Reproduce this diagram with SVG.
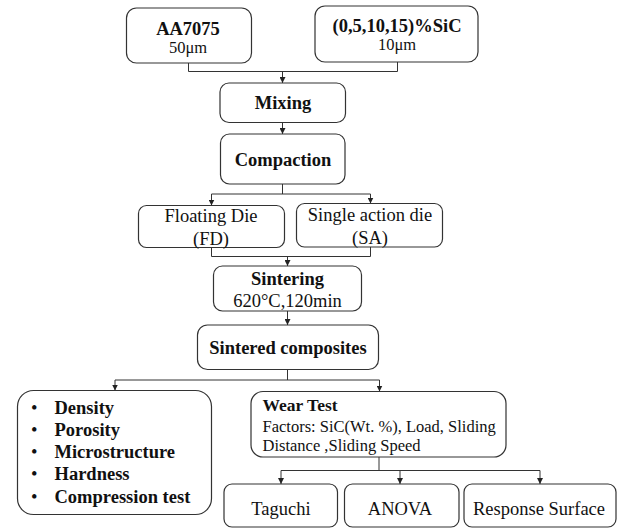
<svg xmlns="http://www.w3.org/2000/svg" width="617" height="529" viewBox="0 0 617 529">
<defs>
<marker id="ah" markerUnits="userSpaceOnUse" markerWidth="6" markerHeight="6" refX="6" refY="3" orient="auto">
<path d="M0,0 L6,3 L0,6 z" fill="#222"/>
</marker>
<style>
.box{fill:#fff;stroke:#333;stroke-width:1.2}
.c{fill:none;stroke:#333;stroke-width:1}
.a{fill:none;stroke:#333;stroke-width:1;marker-end:url(#ah)}
text{font-family:"Liberation Serif","Times New Roman",serif;fill:#111}
.b{font-weight:bold;font-size:18.5px}
.r{font-size:18.5px}
.s{font-size:16.5px}
.m{text-anchor:middle}
</style>
</defs>
<rect width="617" height="529" fill="#fff"/>
<g id="connectors">
<path class="c" d="M188.5,63 V71.5 H397.5 V62"/>
<path class="a" d="M282.5,71.5 V83"/>
<path class="a" d="M282.5,122.5 V134"/>
<path class="c" d="M282.5,184 V194 M211.5,194 H370.5"/>
<path class="a" d="M211.5,194 V205.5"/>
<path class="a" d="M370.5,194 V203.5"/>
<path class="c" d="M211.5,247.5 V256.5 H370.5 V247"/>
<path class="a" d="M287.5,256.5 V266"/>
<path class="a" d="M287.5,311 V325"/>
<path class="c" d="M287.5,369.5 V380 M115,380 H379.5"/>
<path class="a" d="M115,380 V390.5"/>
<path class="a" d="M379.5,380 V391.5"/>
<path class="c" d="M379,457 V470.5 M281,470.5 H540"/>
<path class="a" d="M281,470.5 V484"/>
<path class="a" d="M400,470.5 V484"/>
<path class="a" d="M540,470.5 V484"/>
</g>
<g id="aa7075">
<rect class="box" x="126.5" y="8" width="125" height="55" rx="10"/>
<text class="b m" x="188" y="34.5">AA7075</text>
<text class="s m" x="188" y="53">50μm</text>
</g>
<g id="sic">
<rect class="box" x="315" y="6" width="163" height="56" rx="10"/>
<text class="b m" x="397" y="32">(0,5,10,15)%SiC</text>
<text class="s m" x="397" y="50">10μm</text>
</g>
<g id="mixing">
<rect class="box" x="220" y="83" width="125.5" height="39.5" rx="9"/>
<text class="b m" x="283" y="109">Mixing</text>
</g>
<g id="compaction">
<rect class="box" x="220.5" y="134" width="124.5" height="50" rx="9"/>
<text class="b m" x="283" y="165.5">Compaction</text>
</g>
<g id="fd">
<rect class="box" x="138.5" y="205.5" width="146" height="42" rx="8"/>
<text class="r m" x="211" y="222">Floating Die</text>
<text class="r m" x="211" y="244.5">(FD)</text>
</g>
<g id="sa">
<rect class="box" x="296.5" y="203.5" width="146" height="43.5" rx="8"/>
<text class="r m" x="370" y="221">Single action die</text>
<text class="r m" x="370" y="244">(SA)</text>
</g>
<g id="sintering">
<rect class="box" x="213.5" y="266" width="148" height="45" rx="9"/>
<text class="b m" x="287.5" y="285">Sintering</text>
<text class="r m" x="287.5" y="307">620°C,120min</text>
</g>
<g id="sintered">
<rect class="box" x="197.5" y="325" width="181" height="44.5" rx="10"/>
<text class="b m" x="288" y="353.5">Sintered composites</text>
</g>
<g id="properties">
<rect class="box" x="17.5" y="390.5" width="194" height="124" rx="16"/>
<text class="r" x="31" y="413.5">•</text>
<text class="r" x="31" y="435.5">•</text>
<text class="r" x="31" y="458">•</text>
<text class="r" x="31" y="480">•</text>
<text class="r" x="31" y="502.5">•</text>
<text class="b" x="54.5" y="413.5">Density</text>
<text class="b" x="54.5" y="435.5">Porosity</text>
<text class="b" x="54.5" y="458">Microstructure</text>
<text class="b" x="54.5" y="480">Hardness</text>
<text class="b" x="54.5" y="502.5">Compression test</text>
</g>
<g id="weartest">
<rect class="box" x="251" y="391.5" width="255" height="65.5" rx="12"/>
<text class="b" x="262.5" y="410.5" style="font-size:17.5px">Wear Test</text>
<text class="s" x="262.5" y="431.5">Factors: SiC(Wt. %), Load, Sliding</text>
<text class="s" x="262.5" y="451">Distance ,Sliding Speed</text>
</g>
<g id="taguchi">
<rect class="box" x="224" y="484" width="113.5" height="43" rx="8"/>
<text class="r m" x="281" y="515">Taguchi</text>
</g>
<g id="anova">
<rect class="box" x="344.5" y="484" width="114.5" height="43" rx="8"/>
<text class="r m" x="400" y="515">ANOVA</text>
</g>
<g id="rs">
<rect class="box" x="464" y="484" width="152" height="43" rx="8"/>
<text class="r m" x="539" y="515">Response Surface</text>
</g>
</svg>
